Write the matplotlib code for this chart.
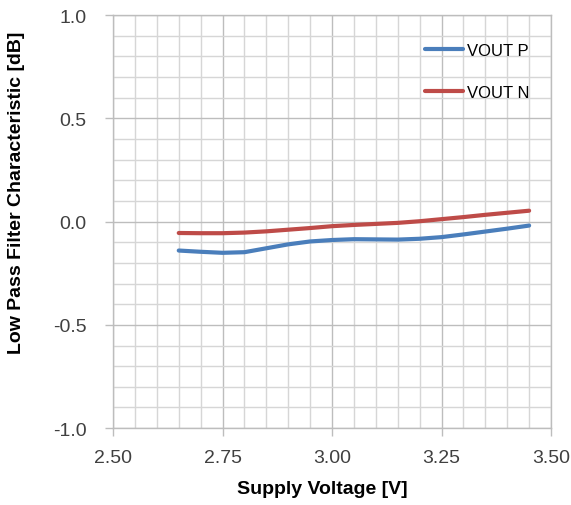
import numpy as np
import matplotlib
matplotlib.use('Agg')
import matplotlib.pyplot as plt
from matplotlib.ticker import MultipleLocator

# data
supply_v = [2.65, 2.70, 2.75, 2.80, 2.85, 2.90, 2.95, 3.00, 3.05, 3.10, 3.15, 3.20,
            3.25, 3.30, 3.35, 3.40, 3.45]
vout_p = [-0.140, -0.146, -0.151, -0.148, -0.129, -0.110, -0.096, -0.089, -0.085, -0.086,
          -0.087, -0.083, -0.075, -0.062, -0.048, -0.034, -0.019]
vout_n = [-0.055, -0.056, -0.056, -0.053, -0.047, -0.039, -0.031, -0.022, -0.016, -0.011,
          -0.006, 0.002, 0.012, 0.022, 0.033, 0.043, 0.053]

x_ticks = [2.50, 2.75, 3.00, 3.25, 3.50]
y_ticks = [-1.0, -0.5, 0.0, 0.5, 1.0]

plt.rcParams['font.family'] = ['Liberation Sans', 'DejaVu Sans']

fig = plt.figure(figsize=(5.71, 5.06), dpi=100)
ax = fig.add_axes([0.198, 0.152, 0.767, 0.816])

ax.plot(supply_v, vout_p, color='#4a7ebb', linewidth=3, label='VOUT P', solid_capstyle='round')
ax.plot(supply_v, vout_n, color='#be4b48', linewidth=3, label='VOUT N', solid_capstyle='round')

ax.set_xlim(2.5, 3.5)
ax.set_ylim(-1.0, 1.0)
ax.set_xticks(x_ticks)
ax.set_yticks(y_ticks)
ax.set_xticklabels([f'{v:.2f}' for v in x_ticks])
ax.set_yticklabels([f'{v:.1f}' for v in y_ticks])
ax.xaxis.set_minor_locator(MultipleLocator(0.05))
ax.yaxis.set_minor_locator(MultipleLocator(0.1))

ax.grid(True, which='major', color='#bdbdbd', linewidth=1.0)
ax.grid(True, which='minor', color='#d6d6d6', linewidth=1.0)
ax.set_axisbelow(True)

for s in ax.spines.values():
    s.set_color('#bdbdbd')
    s.set_linewidth(1.0)

ax.tick_params(which='major', direction='out', length=6, width=1, color='#bdbdbd',
               labelsize=14, labelcolor='#404040')
ax.tick_params(axis='x', pad=9)
ax.tick_params(axis='y', pad=13)
ax.tick_params(which='minor', length=0)

# axis titles
fig.text(322 / 571, 1 - 490 / 506, 'Supply Voltage [V]', fontsize=14, fontweight='bold',
         ha='center', va='center')
fig.text(17 / 571, 1 - 193 / 506, 'Low Pass Filter Characteristic [dB]', fontsize=14,
         fontweight='bold', ha='center', va='center', rotation=90)

ax.legend(loc='upper left', bbox_to_anchor=(0.697, 0.948), frameon=False, fontsize=12,
          handlelength=2.3, handletextpad=0.2, labelspacing=1.6, borderaxespad=0)

fig.savefig('out.png', dpi=100)
